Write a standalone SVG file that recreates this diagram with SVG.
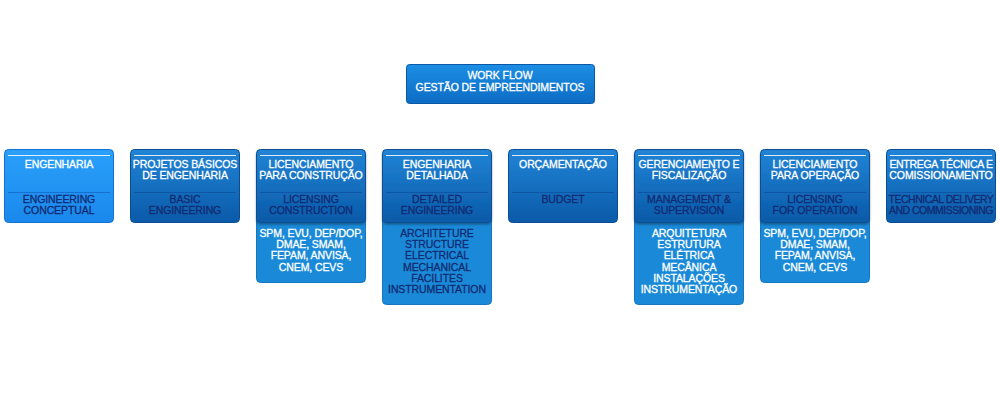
<svg xmlns="http://www.w3.org/2000/svg" width="1000" height="401" viewBox="0 0 1000 401">
<defs>
<linearGradient id="gTop" x1="0" y1="0" x2="0" y2="1"><stop offset="0" stop-color="#1c8ee4"/><stop offset="1" stop-color="#0d6cc4"/></linearGradient>
<linearGradient id="gLight" x1="0" y1="0" x2="0" y2="1"><stop offset="0" stop-color="#2aa0fa"/><stop offset="1" stop-color="#1a88ec"/></linearGradient>
<linearGradient id="gDark" x1="0" y1="0" x2="0" y2="1"><stop offset="0" stop-color="#2184d6"/><stop offset="1" stop-color="#0a5aa8"/></linearGradient>
<filter id="sh" x="-10%" y="-10%" width="120%" height="130%"><feDropShadow dx="0" dy="1.5" stdDeviation="1.2" flood-color="#000" flood-opacity="0.35"/></filter>
</defs>
<style>
text{font-family:"Liberation Sans",Arial,sans-serif;font-size:10.5px;text-anchor:middle;letter-spacing:-0.1px;stroke-width:0.3px}
.w{fill:#ffffff;stroke:#ffffff}
.n{fill:#122a72;stroke:#122a72}
.top{fill:url(#gTop);stroke:#0a58a8;stroke-width:1}
.hl{fill:url(#gLight);stroke:#1670d0;stroke-width:1}
.hd{fill:url(#gDark);stroke:#0b4d94;stroke-width:1}
.det{fill:#1a8ad8;stroke:#1677c0;stroke-width:1}
.hi{stroke:#ffffff;stroke-opacity:0.85;stroke-width:1}
.dv{stroke:#0d56a6;stroke-width:1}
.dvl{stroke:#1670d0;stroke-width:1}
</style>
<g id="connectors"></g>
<g id="top">
<rect class="top" x="406.5" y="64.5" width="188" height="39" rx="3"/>
<text class="w" x="500" y="79">WORK FLOW</text>
<text class="w" x="500" y="91">GESTÃO DE EMPREENDIMENTOS</text>
</g>
<g id="n1">
<rect class="hl" x="4.5" y="149.5" width="109" height="73" rx="4"/>
<line class="hi" x1="8" y1="155.5" x2="110" y2="155.5"/>
<line class="dvl" x1="8" y1="192.5" x2="110" y2="192.5"/>
<text class="w" x="59" y="168">ENGENHARIA</text>
<text class="n" x="59" y="203">ENGINEERING</text>
<text class="n" x="59" y="214">CONCEPTUAL</text>
</g>
<g id="n2">
<rect class="hd" x="130.5" y="149.5" width="109" height="73" rx="4"/>
<line class="hi" x1="134" y1="155.5" x2="236" y2="155.5"/>
<line class="dv" x1="134" y1="192.5" x2="236" y2="192.5"/>
<text class="w" x="185" y="168">PROJETOS BÁSICOS</text>
<text class="w" x="185" y="179">DE ENGENHARIA</text>
<text class="n" x="185" y="203">BASIC</text>
<text class="n" x="185" y="214">ENGINEERING</text>
</g>
<g id="n3">
<rect class="det" x="256.5" y="200.5" width="109" height="82" rx="4"/>
<rect class="hd" x="256.5" y="149.5" width="109" height="73" rx="4" filter="url(#sh)"/>
<line class="hi" x1="260" y1="155.5" x2="362" y2="155.5"/>
<line class="dv" x1="260" y1="192.5" x2="362" y2="192.5"/>
<text class="w" x="311" y="168">LICENCIAMENTO</text>
<text class="w" x="311" y="179">PARA CONSTRUÇÃO</text>
<text class="n" x="311" y="203">LICENSING</text>
<text class="n" x="311" y="214">CONSTRUCTION</text>
<text class="w" x="311" y="237">SPM, EVU, DEP/DOP,</text>
<text class="w" x="311" y="248.2">DMAE, SMAM,</text>
<text class="w" x="311" y="259.4">FEPAM, ANVISA,</text>
<text class="w" x="311" y="270.6">CNEM, CEVS</text>
</g>
<g id="n4">
<rect class="det" x="382.5" y="200.5" width="109" height="104" rx="4"/>
<rect class="hd" x="382.5" y="149.5" width="109" height="73" rx="4" filter="url(#sh)"/>
<line class="hi" x1="386" y1="155.5" x2="488" y2="155.5"/>
<line class="dv" x1="386" y1="192.5" x2="488" y2="192.5"/>
<text class="w" x="437" y="168">ENGENHARIA</text>
<text class="w" x="437" y="179">DETALHADA</text>
<text class="n" x="437" y="203">DETAILED</text>
<text class="n" x="437" y="214">ENGINEERING</text>
<text class="n" x="437" y="237">ARCHITETURE</text>
<text class="n" x="437" y="248.2">STRUCTURE</text>
<text class="n" x="437" y="259.4">ELECTRICAL</text>
<text class="n" x="437" y="270.6">MECHANICAL</text>
<text class="n" x="437" y="281.8">FACILITES</text>
<text class="n" x="437" y="293">INSTRUMENTATION</text>
</g>
<g id="n5">
<rect class="hd" x="508.5" y="149.5" width="109" height="73" rx="4"/>
<line class="hi" x1="512" y1="155.5" x2="614" y2="155.5"/>
<line class="dv" x1="512" y1="192.5" x2="614" y2="192.5"/>
<text class="w" x="563" y="168">ORÇAMENTAÇÃO</text>
<text class="n" x="563" y="203">BUDGET</text>
</g>
<g id="n6">
<rect class="det" x="634.5" y="200.5" width="109" height="104" rx="4"/>
<rect class="hd" x="634.5" y="149.5" width="109" height="73" rx="4" filter="url(#sh)"/>
<line class="hi" x1="638" y1="155.5" x2="740" y2="155.5"/>
<line class="dv" x1="638" y1="192.5" x2="740" y2="192.5"/>
<text class="w" x="689" y="168">GERENCIAMENTO E</text>
<text class="w" x="689" y="179">FISCALIZAÇÃO</text>
<text class="n" x="689" y="203">MANAGEMENT &amp;</text>
<text class="n" x="689" y="214">SUPERVISION</text>
<text class="w" x="689" y="237">ARQUITETURA</text>
<text class="w" x="689" y="248.2">ESTRUTURA</text>
<text class="w" x="689" y="259.4">ELÉTRICA</text>
<text class="w" x="689" y="270.6">MECÂNICA</text>
<text class="w" x="689" y="281.8">INSTALAÇÕES</text>
<text class="w" x="689" y="293">INSTRUMENTAÇÃO</text>
</g>
<g id="n7">
<rect class="det" x="760.5" y="200.5" width="109" height="82" rx="4"/>
<rect class="hd" x="760.5" y="149.5" width="109" height="73" rx="4" filter="url(#sh)"/>
<line class="hi" x1="764" y1="155.5" x2="866" y2="155.5"/>
<line class="dv" x1="764" y1="192.5" x2="866" y2="192.5"/>
<text class="w" x="815" y="168">LICENCIAMENTO</text>
<text class="w" x="815" y="179">PARA OPERAÇÃO</text>
<text class="n" x="815" y="203">LICENSING</text>
<text class="n" x="815" y="214">FOR OPERATION</text>
<text class="w" x="815" y="237">SPM, EVU, DEP/DOP,</text>
<text class="w" x="815" y="248.2">DMAE, SMAM,</text>
<text class="w" x="815" y="259.4">FEPAM, ANVISA,</text>
<text class="w" x="815" y="270.6">CNEM, CEVS</text>
</g>
<g id="n8">
<rect class="hd" x="886.5" y="149.5" width="109" height="73" rx="4"/>
<line class="hi" x1="890" y1="155.5" x2="992" y2="155.5"/>
<line class="dv" x1="890" y1="192.5" x2="992" y2="192.5"/>
<text class="w" x="941" y="168" style="letter-spacing:-0.3px">ENTREGA TÉCNICA E</text>
<text class="w" x="941" y="179">COMISSIONAMENTO</text>
<text class="n" x="941" y="203" style="letter-spacing:-0.5px">TECHNICAL DELIVERY</text>
<text class="n" x="941" y="214" style="letter-spacing:-0.5px">AND COMMISSIONING</text>
</g>
</svg>
